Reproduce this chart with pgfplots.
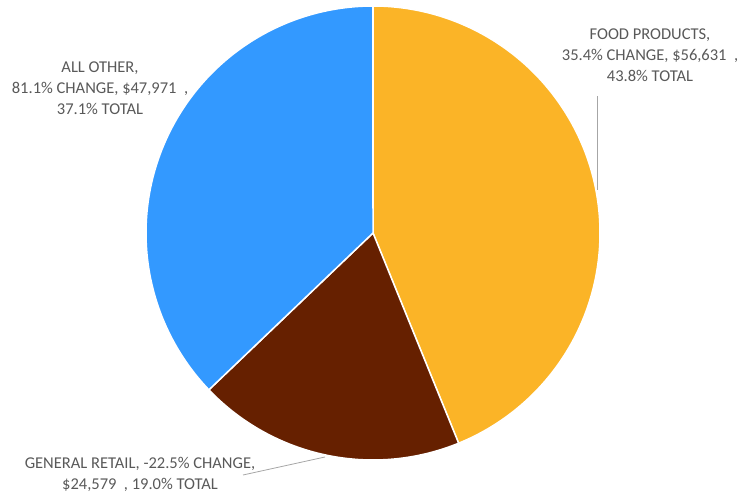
\documentclass[border=0pt]{standalone}
\usepackage{pgfplots}
\pgfplotsset{compat=1.18}
\usepackage{fontspec}
\setmainfont{Carlito}
\definecolor{foodc}{HTML}{FBB427}
\definecolor{genc}{HTML}{662000}
\definecolor{othc}{HTML}{3399FF}
\definecolor{txt}{HTML}{595959}
\definecolor{lead}{HTML}{A6A6A6}
% shares (% of total)
\def\vFood{43.8}
\def\vGen{19.0}
\def\vOth{37.1}
\pgfmathsetmacro{\tot}{\vFood+\vGen+\vOth}
\pgfmathsetmacro{\aA}{90}
\pgfmathsetmacro{\aB}{\aA-\vFood/\tot*360}
\pgfmathsetmacro{\aC}{\aB-\vGen/\tot*360}
\pgfmathsetmacro{\aD}{\aC-\vOth/\tot*360}
\def\cx{373}
\def\cy{267}
\def\rr{227}
\tikzset{lbl/.style={font=\fontsize{16.5}{21}\selectfont, text=txt, align=center, inner sep=0pt}}
\begin{document}
\begin{tikzpicture}
\useasboundingbox (0,0) rectangle (740pt,500pt);
\begin{axis}[
  at={(0,0)}, anchor=south west,
  scale only axis, width=740pt, height=500pt,
  xmin=0, xmax=740, ymin=0, ymax=500,
  hide axis, clip=false,
]
\addplot[fill=foodc, draw=white, line width=1.5pt, domain=\aA:\aB, samples=120, smooth]
  ({\cx+\rr*cos(x)},{\cy+\rr*sin(x)}) -- (axis cs:\cx,\cy) -- cycle;
\addplot[fill=genc, draw=white, line width=1.5pt, domain=\aB:\aC, samples=80, smooth]
  ({\cx+\rr*cos(x)},{\cy+\rr*sin(x)}) -- (axis cs:\cx,\cy) -- cycle;
\addplot[fill=othc, draw=white, line width=1.5pt, domain=\aC:\aD, samples=120, smooth]
  ({\cx+\rr*cos(x)},{\cy+\rr*sin(x)}) -- (axis cs:\cx,\cy) -- cycle;
% leader lines
\addplot[lead, line width=0.8pt] coordinates {(597,310) (597,404)};
\addplot[lead, line width=0.8pt] coordinates {(325,43) (243,25)};
% labels
\node[lbl] at (axis cs:650,445) {FOOD PRODUCTS,\\35.4\% CHANGE, \$56,631~~,\\43.8\% TOTAL};
\node[lbl] at (axis cs:100,412) {ALL OTHER,\\81.1\% CHANGE, \$47,971~~,\\37.1\% TOTAL};
\node[lbl] at (axis cs:140,26) {GENERAL RETAIL, -22.5\% CHANGE,\\\$24,579~~, 19.0\% TOTAL};
\end{axis}
\end{tikzpicture}
\end{document}
